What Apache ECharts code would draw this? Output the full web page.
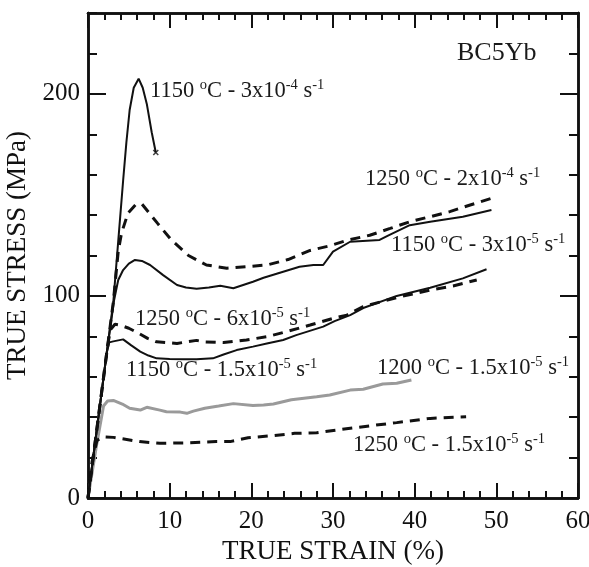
<!DOCTYPE html>
<html>
<head>
<meta charset="utf-8">
<script src="https://cdn.jsdelivr.net/npm/echarts@6/dist/echarts.min.js"></script>
<style>
  html, body { margin: 0; padding: 0; background: #fff; }
  #chart { width: 589px; height: 567px; }
</style>
</head>
<body>
<div id="chart"></div>
<script>
// 1150 C - 3x10-4 (solid, breaks at the x)
const strain1 = [0, 0.6, 1.5, 2.3, 3.1, 3.7, 4.3, 4.7, 5.1, 5.6, 6.2, 6.7, 7.2, 7.8, 8.3];
const stress1 = [0, 19, 47, 72, 97, 127, 157, 176, 192, 203, 207.5, 203, 195, 181, 171];
const breakStrain = [8.3];
const breakStress = [171];

// 1250 C - 2x10-4 (dashed)
const strain2 = [0, 0.6, 1.5, 2.3, 3.1, 3.7, 4.1, 4.9, 5.8, 6.6, 7.5, 8.5, 10.2, 12.3, 14.5, 17.0, 19.4, 21.9, 24.5, 27.2, 29.6, 31.7, 34.5, 37.0, 39.4, 41.9, 44.3, 46.8, 49.4];
const stress2 = [0, 19, 47, 72, 97, 122, 131, 141, 145, 145.5, 141, 136, 127.7, 120, 115.3, 113.7, 114.5, 115.3, 118, 122.5, 124.8, 127.5, 130, 133.4, 136.7, 139.2, 141.7, 145, 148.3];

// 1150 C - 3x10-5 (solid)
const strain3 = [0, 0.6, 1.5, 2.3, 3.2, 3.7, 4.3, 5.0, 5.75, 6.6, 7.6, 9.2, 10.9, 12.0, 13.3, 14.8, 16.2, 17.8, 20.2, 21.5, 23.1, 25.9, 27.6, 28.8, 30.0, 32.1, 35.7, 36.8, 39.4, 41.9, 45.9, 49.4];
const stress3 = [0, 19, 47, 72, 98, 107.9, 112.8, 116, 117.8, 117.3, 115.3, 110.3, 105.4, 104.2, 103.5, 104.2, 105, 103.8, 107, 109, 111, 114.4, 115.3, 115.3, 121.9, 126.8, 127.7, 130, 135, 136.7, 139.2, 142.5];

// 1250 C - 6x10-5 (dashed)
const strain4 = [0, 0.6, 1.5, 2.3, 2.7, 3.3, 3.9, 5.0, 6.2, 7.3, 8.4, 10.9, 13.3, 14.1, 16.6, 19.4, 21.9, 24.3, 27.2, 30.0, 31.7, 33.7, 37.8, 41.9, 44.7, 47.6];
const stress4 = [0, 19, 47, 72, 83, 86, 85.6, 84, 81.5, 79, 77.3, 76.5, 78, 77.3, 76.9, 78.2, 79.8, 82.3, 85.6, 88.9, 90.5, 94.7, 99.2, 102.9, 104.9, 107.9];

// 1150 C - 1.5x10-5 (solid)
const strain5 = [0, 0.6, 1.5, 2.3, 2.6, 3.1, 3.7, 4.3, 5.3, 6.4, 7.4, 8.4, 10.0, 11.7, 13.3, 15.3, 16.6, 18.2, 20.2, 21.9, 23.9, 25.5, 28.8, 30.2, 32.1, 33.7, 37.8, 41.9, 45.9, 48.8];
const stress5 = [0, 19, 47, 72, 77, 77.5, 78, 78.5, 75.5, 72.4, 70.5, 69.1, 68.8, 68.6, 68.6, 69.1, 71, 73.2, 74.9, 76.5, 78.2, 80.6, 84.8, 87.5, 90.5, 94, 100, 104, 108.7, 113.2];

// 1200 C - 1.5x10-5 (grey)
const strain6 = [0, 1.0, 1.9, 2.4, 3.1, 4.2, 5.1, 6.4, 7.2, 8.8, 9.6, 11.3, 12.1, 12.9, 14.3, 16.0, 17.8, 20.2, 21.5, 22.7, 24.9, 28.0, 29.6, 32.1, 33.7, 36.1, 37.8, 39.6];
const stress6 = [0, 25, 45.5, 48, 48.3, 46.5, 44.4, 43.5, 44.9, 43.5, 42.7, 42.5, 41.9, 43, 44.4, 45.5, 46.7, 45.8, 46, 46.5, 48.6, 50.1, 51, 53.4, 53.8, 56.4, 56.8, 58.4];

// 1250 C - 1.5x10-5 (dashed)
const strain7 = [0, 0.5, 1.1, 1.9, 3.1, 3.9, 6.3, 8.8, 12.5, 15.7, 17.4, 19.6, 22.5, 25.3, 28.0, 30.4, 33.7, 37.8, 41.9, 46.3];
const stress7 = [0, 18, 28.5, 30.3, 30, 29.5, 27.9, 27.1, 27.3, 27.9, 27.9, 29.8, 30.8, 32, 32.3, 33.6, 35.3, 37.3, 39.4, 40.2];

// curve labels: [temperature, rate mantissa, exponent]
const curveLabels = [
  ['1150', '3x10', '-4'],
  ['1250', '2x10', '-4'],
  ['1150', '3x10', '-5'],
  ['1250', '6x10', '-5'],
  ['1150', '1.5x10', '-5'],
  ['1200', '1.5x10', '-5'],
  ['1250', '1.5x10', '-5']
];
const sampleName = 'BC5Yb';

const FONT = '"Liberation Serif", "Times New Roman", serif';
const zip = (xs, ys) => xs.map((x, i) => [x, ys[i]]);

const chart = echarts.init(document.getElementById('chart'));

function xAxis(position, interval, len, showLabel, name) {
  return {
    type: 'value', position, min: 0, max: 60, interval,
    name: name || '', nameLocation: 'middle', nameGap: 37,
    nameTextStyle: { fontFamily: FONT, fontSize: 27, color: '#111' },
    axisLine: { show: true, onZero: false, lineStyle: { color: '#111', width: 2.5 } },
    axisTick: { show: true, inside: true, length: len, lineStyle: { color: '#111', width: 2 } },
    axisLabel: { show: showLabel, margin: 11, fontFamily: FONT, fontSize: 25, color: '#111' },
    splitLine: { show: false }
  };
}

function yAxis(position, interval, len, showLabel, name) {
  return {
    type: 'value', position, min: 0, max: 240, interval,
    name: name || '', nameLocation: 'middle', nameGap: 53,
    nameTextStyle: { fontFamily: FONT, fontSize: 27, color: '#111' },
    axisLine: { show: true, onZero: false, lineStyle: { color: '#111', width: 2.5 } },
    axisTick: { show: true, inside: true, length: len, lineStyle: { color: '#111', width: 2 } },
    axisLabel: { show: showLabel, margin: 8, fontFamily: FONT, fontSize: 25, color: '#111', showMaxLabel: false },
    splitLine: { show: false }
  };
}

function curve(xs, ys, color, width, type) {
  return {
    type: 'line', xAxisIndex: 0, yAxisIndex: 0,
    data: zip(xs, ys), symbol: 'none', smooth: false, silent: true,
    lineStyle: { color, width, type }
  };
}

function labelText(t) {
  return '{n|' + t[0] + ' }{s|o}{n|C - ' + t[1] + '}{s|' + t[2] + '}{n| s}{s|-1}';
}

const rich = {
  n: { fontFamily: FONT, fontSize: 22.5, fill: '#1a1a1a', color: '#1a1a1a' },
  s: { fontFamily: FONT, fontSize: 14.5, fill: '#1a1a1a', color: '#1a1a1a', padding: [0, 0, 11, 0] }
};

// where each label sits (left x, middle y) in pixels
const labelSpots = [[150, 91], [365, 179], [391, 245], [135, 319], [126, 370], [377, 368], [353, 445]];

const DASH = [10, 7];

chart.setOption({
  backgroundColor: '#fff',
  animation: false,
  grid: { left: 88, right: 11, top: 13, bottom: 69, outerBoundsMode: 'none' },
  xAxis: [
    xAxis('bottom', 2, 7, false),
    xAxis('bottom', 10, 15, true, 'TRUE STRAIN (%)'),
    xAxis('top', 2, 7, false),
    xAxis('top', 10, 15, false)
  ],
  yAxis: [
    yAxis('left', 20, 9, false),
    yAxis('left', 100, 18, true, 'TRUE STRESS (MPa)'),
    yAxis('right', 20, 9, false),
    yAxis('right', 100, 18, false)
  ],
  series: [
    curve(strain6, stress6, '#9a9a9a', 3, 'solid'),
    curve(strain7, stress7, '#111', 3, DASH),
    curve(strain5, stress5, '#111', 2, 'solid'),
    curve(strain4, stress4, '#111', 3, DASH),
    curve(strain3, stress3, '#111', 2, 'solid'),
    curve(strain2, stress2, '#111', 3, DASH),
    curve(strain1, stress1, '#111', 2, 'solid'),
    {
      type: 'scatter', xAxisIndex: 0, yAxisIndex: 0, silent: true,
      data: zip(breakStrain, breakStress),
      symbol: 'path://M0,0L10,10M10,0L0,10', symbolSize: 5,
      itemStyle: { color: 'none', borderColor: '#111', borderWidth: 1.5 }
    }
  ],
  graphic: curveLabels.map((t, i) => ({
    type: 'text', silent: true,
    x: labelSpots[i][0], y: labelSpots[i][1],
    style: { text: labelText(t), rich, verticalAlign: 'middle', align: 'left', fill: '#1a1a1a', font: '22.5px ' + FONT }
  })).concat([{
    type: 'text', silent: true, x: 457, y: 53,
    style: { text: sampleName, verticalAlign: 'middle', align: 'left', fill: '#1a1a1a', font: '26px ' + FONT }
  }])
});
</script>
</body>
</html>
